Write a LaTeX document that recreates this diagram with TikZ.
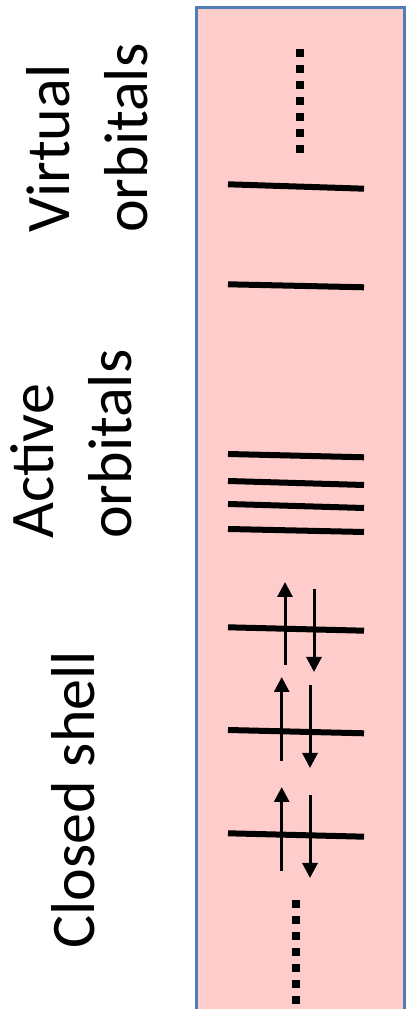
\documentclass[tikz,border=0pt]{standalone}
\usepackage{fontspec}
\setmainfont{Carlito}
\usepackage{tikz}
\usetikzlibrary{arrows.meta,positioning}
\usepackage{xcolor}
\definecolor{shellpink}{RGB}{255,204,204}
\definecolor{shellblue}{RGB}{79,125,180}

\tikzset{
  orbline/.style={line width=6pt},
  spin/.style={line width=3pt, -{Triangle[width=15pt,length=15pt]}},
  moredots/.style={line width=8pt, dash pattern=on 8pt off 8pt},
  sidetext/.style={rotate=90, inner sep=0pt, align=left,
    font=\fontsize{62}{78}\selectfont}
}

\begin{document}
\begin{tikzpicture}[x=1pt,y=1pt]
	\useasboundingbox (0,0) rectangle (405,1009);
	\draw[shellblue, line width=2.5pt, fill=shellpink] (196.5,-20) rectangle (404.5,1001.5);

	% virtual orbitals
	\draw[moredots] (300,960) -- (300,856);
	\draw[orbline] (228,824.7) -- (364,820.3);
	\draw[orbline] (228,724.7) -- (364,721.7);

	% active orbitals
	\foreach \ya/\yb in {555/551.7, 528/524, 505/501, 480/477}
		\draw[orbline] (228,\ya) -- (364,\yb);

	% closed shell, doubly occupied
	\foreach \ya/\yb/\xu/\xd/\ut/\uh/\dt/\dh in {381.7/378.3/285/314/344/427/420/337,
		279/275.7/281.7/310/248/332/324/241, 175.7/172.3/281.7/310/138/222/214/131}{
		\draw[orbline] (228,\ya) -- (364,\yb);
		\draw[spin] (\xu,\ut) -- (\xu,\uh);
		\draw[spin] (\xd,\dt) -- (\xd,\dh);
	}
	\draw[moredots] (296,109) -- (296,5);

	% labels
	\node[sidetext, anchor=south west] (virt) at (148,776) {Virtual\\orbitals};
	\node[sidetext, anchor=south west] (act) at (132,470) {Active\\orbitals};
	\node[sidetext, anchor=base west] (closed) at (94,60) {Closed shell};
\end{tikzpicture}
\end{document}
